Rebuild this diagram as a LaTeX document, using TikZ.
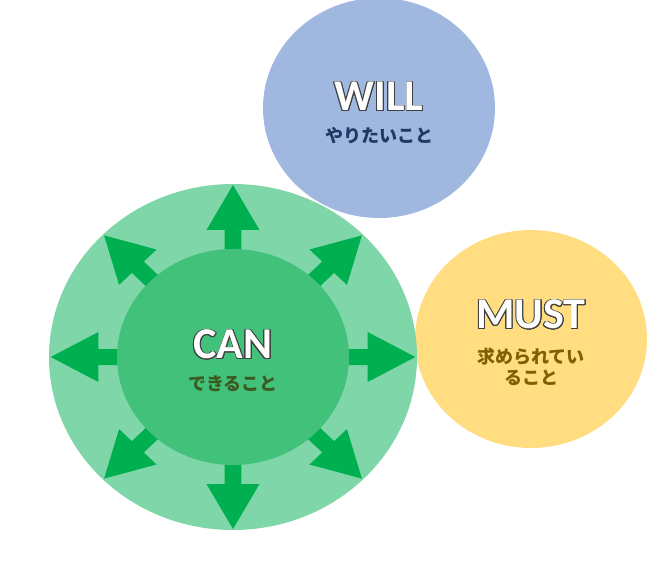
\documentclass[tikz,border=0pt]{standalone}
\usepackage{fontspec}
\usepackage{contour}
\setmainfont{Noto Sans CJK JP}
\newfontfamily\latinf{Carlito}
\contourlength{0.8pt}
\definecolor{outerg}{HTML}{7FD6A8}
\definecolor{innerg}{HTML}{42C17A}
\definecolor{arrg}{HTML}{00B050}
\definecolor{willc}{HTML}{A0B7E0}
\definecolor{mustc}{HTML}{FFDD80}
\definecolor{willt}{HTML}{1F3864}
\definecolor{cant}{HTML}{3A5A20}
\definecolor{mustt}{HTML}{7F6000}
\definecolor{edge}{HTML}{404040}
\tikzset{
  big/.style={font=\latinf\fontsize{44}{48}\selectfont\bfseries, text=white},
  sub/.style={font=\fontsize{18}{21}\selectfont\bfseries, align=center},
  blk/.style={fill=arrg, draw=none}
}
\begin{document}
\begin{tikzpicture}[x=1pt,y=-1pt]
\useasboundingbox (0,0) rectangle (648,580);
\fill[willc] (379,108) ellipse [x radius=116, y radius=110];
\fill[mustc] (531,339) ellipse [x radius=116, y radius=109];
\fill[outerg] (233,357) ellipse [x radius=184, y radius=173];
\coordinate (c) at (233,357);
\foreach \a in {0,45,90,135,180,225,270,315}{
  \begin{scope}[shift={(c)}, xscale=1.06, rotate=-\a]
    \fill[blk] (95,-8) -- (127,-8) -- (127,-25) -- (172,0) -- (127,25) -- (127,8) -- (95,8) -- cycle;
  \end{scope}
}
\fill[innerg] (233,357) ellipse [x radius=116, y radius=108];
\node[big] (can) at (233,345) {\contour{edge}{CAN}};
\node[sub, text=cant] (cans) at (233,384) {できること};
\node[big] (will) at (379,97) {\contour{edge}{WILL}};
\node[sub, text=willt] (wills) at (379,136) {やりたいこと};
\node[big] (must) at (531,315) {\contour{edge}{MUST}};
\node[sub, text=mustt] (musts) at (531,367) {求められてい\\ること};
\end{tikzpicture}
\end{document}
